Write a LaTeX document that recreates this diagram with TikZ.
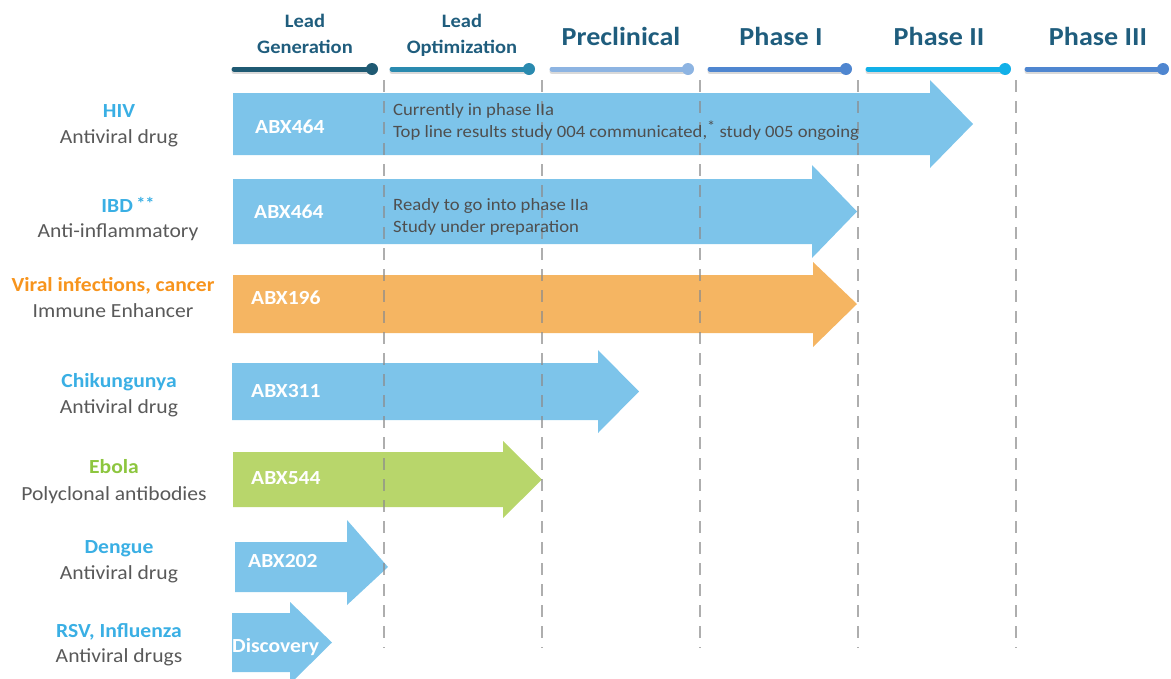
\documentclass[tikz,border=0pt]{standalone}
\usepackage{fontspec}
\setmainfont[FakeStretch=1.08]{Carlito}
\definecolor{hdr}{HTML}{1F5D7D}
\definecolor{bargen}{HTML}{1F5A73}
\definecolor{baropt}{HTML}{2A8AAF}
\definecolor{barpre}{HTML}{8DB4E2}
\definecolor{barph}{HTML}{4F86D0}
\definecolor{barph2}{HTML}{12B0E8}
\definecolor{arblue}{HTML}{7DC4EA}
\definecolor{arorange}{HTML}{F5B562}
\definecolor{argreen}{HTML}{B8D66B}
\definecolor{lblblue}{HTML}{3AAFE4}
\definecolor{lblorange}{HTML}{F7941D}
\definecolor{lblgreen}{HTML}{8DC63F}
\definecolor{txtgray}{HTML}{595959}
\definecolor{notegray}{HTML}{4F4F4F}
\definecolor{dashgray}{HTML}{8C8C8C}
\newcommand{\pipearrow}[8]{%
  \fill[#1] (#2,#3) -- (#5,#3) -- (#5,#7) -- (#6,{(#3+#4)/2}) -- (#5,#8) -- (#5,#4) -- (#2,#4) -- cycle;}
\begin{document}
\begin{tikzpicture}[x=1pt,y=-1pt,
  hdrtxt/.style={inner sep=0pt, anchor=base, text=hdr, font=\bfseries\fontsize{19}{22}\selectfont},
  phasetxt/.style={inner sep=0pt, anchor=base, text=hdr, font=\bfseries\fontsize{26}{30}\selectfont},
  bar/.style={line width=5pt, line cap=round},
  barshadow/.style={line width=5pt, line cap=round, black, opacity=0.15},
  lbltop/.style={inner sep=0pt, anchor=base, font=\bfseries\fontsize{20}{24}\selectfont},
  lblbot/.style={inner sep=0pt, anchor=base, text=txtgray, font=\fontsize{20}{24}\selectfont},
  abx/.style={inner sep=0pt, anchor=base west, text=white, font=\bfseries\fontsize{20}{24}\selectfont},
  note/.style={inner sep=0pt, anchor=base west, text=notegray, font=\fontsize{17.3}{20}\selectfont},
  vdash/.style={dashgray, opacity=0.7, line width=2.5pt, dash pattern=on 12pt off 9pt}
]
\useasboundingbox (0,0) rectangle (1171,678);
\begin{scope}
\clip (0,0) rectangle (1171,678);
% header texts
\node[hdrtxt] (lg1) at (305,27) {Lead};
\node[hdrtxt] (lg2) at (305,53) {Generation};
\node[hdrtxt] (lo1) at (462,27) {Lead};
\node[hdrtxt] (lo2) at (462,53) {Optimization};
\node[phasetxt] (pc) at (621,45) {Preclinical};
\node[phasetxt] (p1) at (781,45) {Phase I};
\node[phasetxt] (p2) at (939,45) {Phase II};
\node[phasetxt] (p3) at (1098,45) {Phase III};
% timeline bars
\foreach \a/\b/\c in {234/372/bargen, 392/529/baropt, 552/688/barpre, 710/846/barph, 868/1005/barph2, 1027/1163/barph}{
  \draw[barshadow] (\a,71.5) -- (\b,71.5);
  \draw[bar, \c] (\a,69) -- (\b,69);
  \fill[\c] (\b,69) circle (6);
}
% arrows
\pipearrow{arblue}{233}{93}{155}{930}{973}{80}{168}
\pipearrow{arblue}{233}{179}{244}{812}{857}{165}{258}
\pipearrow{arorange}{233}{275}{333}{813}{857}{262}{347}
\pipearrow{arblue}{232}{363}{420}{598}{639}{350}{433}
\pipearrow{argreen}{233}{452}{507}{503}{542}{441}{518}
\pipearrow{arblue}{235}{542}{592}{347}{388}{520}{605}
\pipearrow{arblue}{232}{613}{672}{290}{332}{602}{684}
% dashed phase separators
\foreach \x in {384,542,700,858,1016}{
  \draw[vdash] (\x,80) -- (\x,648);
}
% arrow labels
\node[abx] (a1) at (255,133) {ABX464};
\node[abx] (a2) at (254,218) {ABX464};
\node[abx] (a3) at (251,304) {ABX196};
\node[abx] (a4) at (251,397) {ABX311};
\node[abx] (a5) at (251,484) {ABX544};
\node[abx] (a6) at (248,567) {ABX202};
\node[abx] (a7) at (232,652) {Discovery};
% notes
\node[note] (n1) at (393,115) {Currently in phase IIa};
\node[note] (n2) at (393,137) {Top line results study 004 communicated,\raisebox{6pt}{\fontsize{15}{15}\selectfont *} study 005 ongoing};
\node[note] (n3) at (393,210) {Ready to go into phase IIa};
\node[note] (n4) at (393,232) {Study under preparation};
% left labels
\node[lbltop, text=lblblue] (l1) at (119,117) {HIV};
\node[lblbot] (l1b) at (119,143) {Antiviral drug};
\node[lbltop, text=lblblue] (l2) at (128,212) {IBD\,\raisebox{3pt}{\fontsize{17}{17}\selectfont **}};
\node[lblbot] (l2b) at (118,237) {Anti-inflammatory};
\node[lbltop, text=lblorange] (l3) at (113,291) {Viral infections, cancer};
\node[lblbot] (l3b) at (113,317) {Immune Enhancer};
\node[lbltop, text=lblblue] (l4) at (119,387) {Chikungunya};
\node[lblbot] (l4b) at (119,413) {Antiviral drug};
\node[lbltop, text=lblgreen] (l5) at (114,473) {Ebola};
\node[lblbot] (l5b) at (114,500) {Polyclonal antibodies};
\node[lbltop, text=lblblue] (l6) at (119,553) {Dengue};
\node[lblbot] (l6b) at (119,579) {Antiviral drug};
\node[lbltop, text=lblblue] (l7) at (119,637) {RSV, Influenza};
\node[lblbot] (l7b) at (119,662) {Antiviral drugs};
\end{scope}
\end{tikzpicture}
\end{document}
